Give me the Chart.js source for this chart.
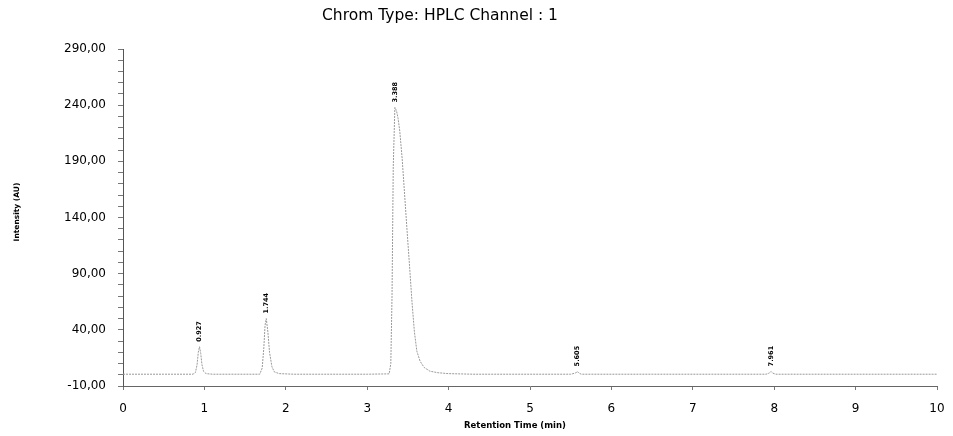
<!DOCTYPE html>
<html><head><meta charset="utf-8">
<script src="https://cdn.jsdelivr.net/npm/chart.js@4/dist/chart.umd.min.js"></script>
<style>html,body{margin:0;padding:0;background:#fff}#wrap{width:953px;height:436px}</style>
</head><body><div id="wrap"><canvas id="c" width="953" height="436"></canvas></div>
<script>
const chartTitle = 'Chrom Type: HPLC Channel : 1';
const xTitle = 'Retention Time (min)';
const yTitle = 'Intensity (AU)';
// chromatogram trace: retention times (min) and intensities (AU)
const times = [0, 0.5, 0.86, 0.89, 0.91, 0.925, 0.94, 0.955, 0.97, 0.99, 1.02, 1.1, 1.5, 1.68, 1.71, 1.73, 1.745, 1.76, 1.78, 1.80, 1.83, 1.86, 1.92, 2.1, 3.0, 3.27, 3.29, 3.305, 3.32, 3.34, 3.36, 3.38, 3.40, 3.43, 3.46, 3.49, 3.52, 3.55, 3.58, 3.61, 3.65, 3.70, 3.77, 3.87, 4.0, 4.3, 5.5, 5.56, 5.58, 5.60, 5.63, 6.5, 7.9, 7.94, 7.96, 7.98, 8.02, 10];
const intensity = [0.5, 0.5, 0.5, 2, 9, 20, 25, 19, 9, 3, 1, 0.5, 0.5, 0.5, 6, 24, 44, 50, 38, 20, 7, 2.5, 1, 0.5, 0.5, 0.8, 10, 70, 185, 238, 235, 228, 217, 192, 160, 128, 97, 65, 38, 21, 12, 6.5, 3.2, 1.8, 1, 0.5, 0.5, 1.5, 3, 1.5, 0.5, 0.5, 0.5, 1.5, 3, 1.5, 0.5, 0.5];
// labelled peaks
const peakTimes = [0.94, 1.76, 3.34, 5.58, 7.96];
const peakHeights = [25, 50, 238, 3, 3];
const peakLabels = ['0.927', '1.744', '3.388', '5.605', '7.961'];
const yTickValues = [-10, 40, 90, 140, 190, 240, 290];

const pts = times.map((t, i) => ({x: t, y: intensity[i]}));
const FAM = '"DejaVu Sans", Arial, sans-serif';

const overlay = {
  id: 'overlay',
  afterDraw(chart) {
    const ctx = chart.ctx, xs = chart.scales.x, ys = chart.scales.y;
    ctx.save();
    ctx.fillStyle = '#000';
    ctx.font = '15.5px ' + FAM;
    ctx.textAlign = 'center';
    ctx.textBaseline = 'middle';
    ctx.fillText(chartTitle, 440, 16);
    ctx.font = 'bold 8.5px ' + FAM;
    ctx.fillText(xTitle, 515, 426);
    ctx.save();
    ctx.translate(17, 212);
    ctx.rotate(-Math.PI / 2);
    ctx.font = 'bold 7.5px ' + FAM;
    ctx.fillText(yTitle, 0, 0);
    ctx.restore();
    ctx.font = 'bold 6.5px ' + FAM;
    ctx.textAlign = 'left';
    peakTimes.forEach((t, i) => {
      const px = xs.getPixelForValue(t), py = ys.getPixelForValue(peakHeights[i]) - 5;
      ctx.save();
      ctx.translate(px, py);
      ctx.rotate(-Math.PI / 2);
      ctx.fillText(peakLabels[i], 0, 0);
      ctx.restore();
    });
    ctx.restore();
  }
};

new Chart(document.getElementById('c'), {
  type: 'line',
  data: { datasets: [{ data: pts, borderColor: '#999', borderWidth: 1, borderDash: [2, 1], pointRadius: 0, tension: 0, fill: false }] },
  options: {
    responsive: false, animation: false,
    layout: { padding: { top: 49, right: 16, left: 0, bottom: 0 } },
    plugins: { legend: { display: false }, tooltip: { enabled: false }, title: { display: false } },
    scales: {
      x: {
        type: 'linear', min: 0, max: 10,
        ticks: { stepSize: 1, color: '#000', font: { family: FAM, size: 12 }, padding: 12, maxRotation: 0 },
        grid: { drawOnChartArea: false, tickLength: 4, color: '#777' },
        border: { color: '#666', dash: [3, 2] },
        afterFit(s) { s.height = 50; s.paddingLeft = 0; s.paddingRight = 0; }
      },
      y: {
        type: 'linear', min: -10, max: 290,
        ticks: { stepSize: 10, autoSkip: false, color: '#000', font: { family: FAM, size: 12 }, padding: 12,
          callback: (v) => yTickValues.includes(v) ? v.toFixed(2).replace('.', ',') : '' },
        grid: { drawOnChartArea: false, tickLength: 5, color: '#777' },
        border: { color: '#555' },
        afterFit(s) { s.width = 123; s.paddingTop = 0; s.paddingBottom = 0; }
      }
    }
  },
  plugins: [overlay]
});
</script></body></html>
